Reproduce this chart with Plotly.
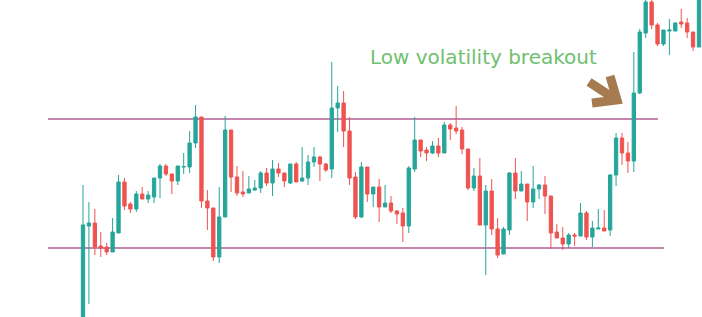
import plotly.graph_objects as go

# Candle data (price units, higher = up)
opens = [-3, 91, 94, 71, 70, 65, 84, 135, 113, 108, 123, 118, 120, 139, 151, 143, 136, 150, 150, 174,
         200, 116, 109, 60, 100, 187, 140, 125, 124, 127, 129, 144, 134, 148, 144, 134, 153, 136, 139, 155,
         160, 153, 148, 209, 214, 186, 140, 100, 150, 123, 130, 110, 114, 106, 104, 91, 148, 177, 167, 164,
         171, 164, 192, 189, 187, 168, 129, 141, 92, 126, 88, 63, 87, 144, 126, 133, 115, 128, 132, 121,
         85, 79, 73, 82, 81, 104, 80, 88, 89, 87, 142, 179, 164, 156, 224, 284, 315, 292, 273, 286,
         286, 295, 294, 285, 270]
closes = [92, 94, 70, 69, 65, 85, 135, 111, 108, 123, 118, 122, 139, 151, 143, 136, 151, 150.5, 174, 200,
          116, 109, 60, 100, 187, 140, 124, 123, 128, 129, 144, 134, 148, 144, 136, 153, 135, 139, 155, 160,
          153, 147, 209, 214, 186, 139, 100, 150, 123, 130, 110, 114, 106, 103, 91, 149, 177, 166, 164, 171,
          164, 192, 188, 186, 168, 129, 141, 92, 126, 88, 62, 88, 144, 126, 133, 115, 128, 132, 121, 84,
          79, 73, 82, 81, 104, 80, 89, 89, 86, 142, 179, 164, 156, 224, 285, 315, 292, 273, 287, 287,
          294, 293, 285, 270, 322]
highs = [132, 115, 108, 85, 74, 99, 142, 139, 115, 126, 130, 126, 139, 153, 153, 143, 151, 164, 186, 212,
         200, 127, 109, 130, 201, 187, 151, 146, 141, 137, 146, 149, 157, 154, 144, 153, 155, 170, 162, 170,
         161, 154, 255, 231, 226, 200, 145, 155, 150, 130, 138, 132, 121, 107, 109, 151, 200, 177, 170, 176,
         179, 195, 194, 211, 190, 168, 149, 159, 132, 138, 99, 90, 145, 159, 146, 133, 151, 133, 141, 121,
         93, 90, 84, 84, 114, 106, 96, 108, 107, 143, 184, 184, 175, 265, 288, 317, 317, 294, 287, 298,
         295, 308, 299, 285, 327]
lows = [-3, 13, 62, 60, 62, 65, 84, 107, 104, 105, 118, 114, 114, 119, 141, 123, 132, 143, 144, 169,
        109, 87, 56, 54, 100, 125, 121, 120, 124, 126, 124, 131, 121, 140, 130, 133, 135, 135, 132, 150,
        136, 145, 139, 185, 170, 132, 98, 99, 115, 110, 95, 110, 104, 93, 75, 84, 145, 160, 156, 163,
        160, 164, 177, 183, 163, 127, 126, 92, 42, 82, 59, 63, 82, 118, 126, 96, 109, 118, 103, 68,
        79, 67, 69, 71, 81, 77, 70, 88, 86, 81, 131, 152, 144, 145, 223, 279, 288, 271, 271, 262,
        286, 289, 279, 266, 270]

resistance = 198
support = 69
label_text = "Low volatility breakout"

n = len(opens)
xs = list(range(n))

UP = "#26a69a"
DOWN = "#ef5350"

fig = go.Figure()
fig.add_trace(go.Candlestick(
    x=xs, open=opens, high=highs, low=lows, close=closes,
    increasing=dict(line=dict(color=UP, width=1), fillcolor=UP),
    decreasing=dict(line=dict(color=DOWN, width=1), fillcolor=DOWN),
    whiskerwidth=0, hoverinfo="skip", showlegend=False,
))

step = 5.923
x0_px = 83.0
def px2x(px):
    return (px - x0_px) / step

line_color = "#c486ad"
fig.add_shape(type="line", xref="x", yref="y", x0=px2x(48), x1=px2x(658),
              y0=resistance, y1=resistance, line=dict(color=line_color, width=2), layer="below")
fig.add_shape(type="line", xref="x", yref="y", x0=px2x(48), x1=px2x(664),
              y0=support, y1=support, line=dict(color=line_color, width=2), layer="below")

W, H = 702, 317
def pp(px, py):
    return px / W, 1 - py / H

# arrow (chevron pointing down-right)
ax0, ay0 = pp(589, 82)
ax1, ay1 = pp(615, 99)
hx0, hy0 = pp(610, 76)
hx2, hy2 = pp(592, 103)
tx, ty = pp(617, 100)
brown = "#a57b4f"
fig.add_shape(type="path", xref="paper", yref="paper",
              path=f"M {ax0} {ay0} L {ax1} {ay1} M {hx0} {hy0} L {tx} {ty} L {hx2} {hy2}",
              line=dict(color=brown, width=9))

lx, ly = pp(483, 57)
fig.add_annotation(x=lx, y=ly, xref="paper", yref="paper", text=label_text, showarrow=False,
                   font=dict(family="DejaVu Sans", size=20, color="#6fc06f"),
                   xanchor="center", yanchor="middle")

fig.update_layout(
    width=W, height=H, margin=dict(l=0, r=0, t=0, b=0),
    paper_bgcolor="white", plot_bgcolor="white",
    boxgap=0.2,
    xaxis=dict(range=[px2x(0), px2x(W)], visible=False, rangeslider=dict(visible=False), fixedrange=True),
    yaxis=dict(range=[0, H], visible=False, fixedrange=True),
    showlegend=False,
)

fig.write_html("out.html")
